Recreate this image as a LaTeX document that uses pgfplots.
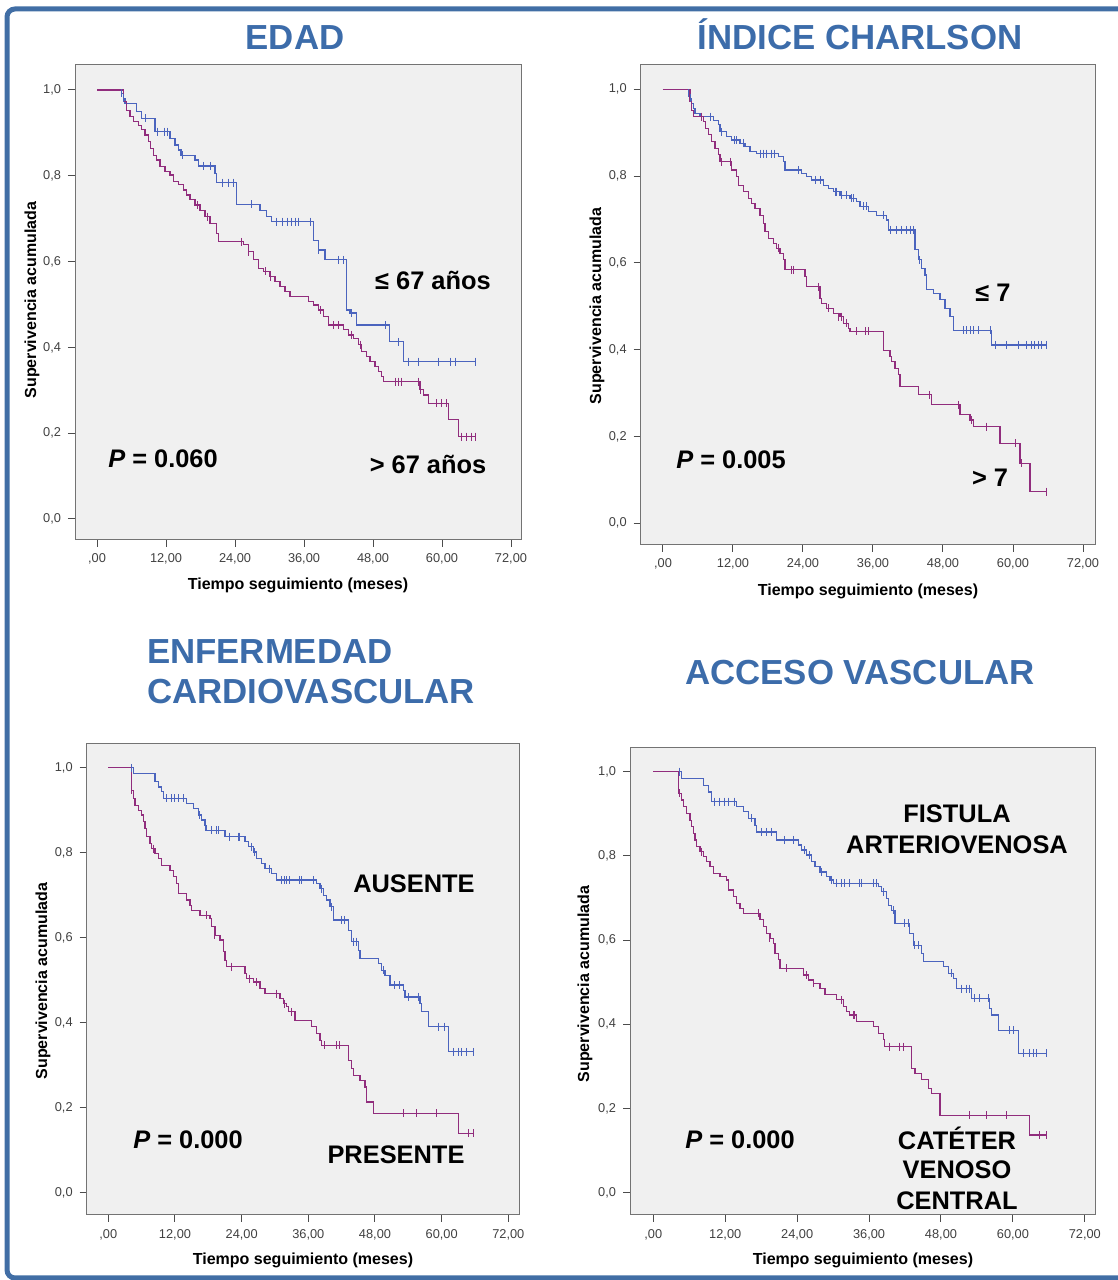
\documentclass[border=0pt]{standalone}
\usepackage{fontspec}
\setmainfont{Liberation Sans}
\usepackage{pgfplots}
\pgfplotsset{compat=1.18}
\definecolor{kmblue}{RGB}{75,100,190}
\definecolor{kmpurple}{RGB}{145,45,125}
\definecolor{bggray}{RGB}{240,240,240}
\definecolor{titleblue}{RGB}{60,108,170}
\definecolor{framec}{RGB}{65,110,165}
\pgfplotsset{km/.style={scale only axis, anchor=south west,
  axis background/.style={fill=bggray},
  axis line style={draw=black!55, line width=0.5pt},
  tick align=outside, xtick pos=bottom, ytick pos=left,
  major tick length=3.5pt, tick style={black!70, line width=0.5pt},
  xtick={0,12,24,36,48,60,72},
  xticklabels={{,00},{12,00},{24,00},{36,00},{48,00},{60,00},{72,00}},
  ytick={0,0.2,0.4,0.6,0.8,1},
  yticklabels={{0,0},{0,2},{0,4},{0,6},{0,8},{1,0}},
  ticklabel style={font=\fontsize{6.4}{7.5}\selectfont, text=black!75},
  clip=false},
  cb/.style={const plot, kmblue, line width=0.6pt},
  cp/.style={const plot, kmpurple, line width=0.6pt},
  mb/.style={only marks, mark=|, mark size=2pt, kmblue, mark options={line width=0.5pt}},
  mp/.style={only marks, mark=|, mark size=2pt, kmpurple, mark options={line width=0.5pt}}}
\newcommand{\ann}{\fontsize{12.7}{14}\selectfont\bfseries}
\newcommand{\ttl}{\fontsize{17.4}{20}\selectfont\bfseries\color{titleblue}}
\newcommand{\axl}{\fontsize{8}{9}\selectfont\bfseries}
\begin{document}
\begin{tikzpicture}[x=0.5pt,y=0.5pt]
\path[use as bounding box] (0,0) rectangle (1118,1280);
\draw[framec, line width=2.5pt, rounded corners=4pt] (7,2) rectangle (1130,1271);
% ---------------- Panel 1 EDAD
\begin{axis}[km, at={(37.5pt,370pt)}, width=223.5pt, height=237.5pt,
  xmin=-3.83, xmax=73.91, ymin=-0.049, ymax=1.0583]
\addplot[cb] coordinates {(0,1)(4.29,0.992)(4.58,0.981)(4.87,0.969)(6.90,0.949)(7.77,0.934)(10.09,0.903)(12.70,0.887)(13.57,0.872)(14.14,0.860)(14.6,0.848)(17.04,0.837)(17.62,0.823)(20.52,0.806)(20.81,0.784)(24.29,0.734)(28.35,0.720)(29.51,0.705)(30.38,0.693)(37.62,0.650)(38.49,0.627)(39.65,0.604)(43.42,0.487)(44.0,0.480)(45.16,0.452)(50.84,0.413)(53.27,0.367)(65.74,0.367)};
\addplot[mb] coordinates {(4.3,0.992)(4.6,0.981)(8.5,0.934)(10.5,0.903)(11.7,0.903)(12.2,0.903)(14.9,0.848)(18.5,0.823)(19.7,0.823)(21.9,0.784)(22.8,0.784)(23.7,0.784)(26.9,0.734)(31.3,0.693)(32.2,0.693)(33.1,0.693)(33.8,0.693)(34.5,0.693)(35.1,0.693)(37.1,0.693)(38.6,0.627)(42.0,0.604)(42.8,0.604)(44.2,0.480)(50.1,0.452)(52.4,0.413)(54.1,0.367)(55.9,0.367)(59.4,0.367)(61.4,0.367)(62.3,0.367)(65.74,0.367)};
\addplot[cp] coordinates {(0,1)(4.58,0.973)(5.16,0.953)(5.74,0.938)(6.32,0.926)(7.19,0.918)(7.77,0.907)(8.35,0.895)(8.93,0.880)(9.33,0.864)(9.80,0.848)(10.38,0.837)(10.96,0.821)(11.83,0.810)(12.70,0.802)(13.28,0.786)(14.14,0.779)(15.01,0.767)(15.59,0.755)(16.17,0.744)(17.04,0.732)(17.91,0.720)(18.78,0.705)(19.65,0.689)(20.81,0.666)(21.10,0.646)(25.45,0.639)(26.32,0.623)(27.19,0.604)(28.06,0.584)(28.93,0.577)(30.09,0.565)(30.96,0.553)(31.83,0.542)(32.70,0.530)(33.57,0.518)(36.75,0.507)(37.62,0.499)(38.49,0.487)(39.36,0.472)(40.23,0.452)(42.84,0.441)(43.71,0.429)(44.58,0.421)(45.45,0.406)(46.03,0.390)(46.90,0.378)(47.48,0.367)(48.35,0.355)(48.93,0.343)(49.51,0.332)(49.80,0.320)(56.17,0.301)(56.75,0.289)(57.62,0.270)(61.10,0.231)(62.84,0.192)(65.74,0.192)};
\addplot[mp] coordinates {(17.45,0.732)(19.25,0.705)(25.2,0.646)(26.32,0.623)(29.22,0.577)(30.09,0.565)(38.78,0.487)(41.10,0.452)(41.97,0.452)(44.29,0.429)(45.74,0.406)(51.83,0.320)(52.41,0.320)(52.99,0.320)(55.88,0.320)(56.3,0.301)(59.07,0.270)(59.94,0.270)(60.81,0.270)(63.42,0.192)(64.29,0.192)(65.16,0.192)(65.74,0.192)};
\end{axis}
% ---------------- Panel 2 CHARLSON
\begin{axis}[km, at={(320.35pt,367.5pt)}, width=227.15pt, height=240pt,
  xmin=-3.82, xmax=74.06, ymin=-0.05, ymax=1.056]
\addplot[cb] coordinates {(0,1)(4.34,0.991)(4.63,0.979)(4.91,0.968)(5.20,0.956)(5.49,0.945)(6.34,0.937)(8.63,0.929)(9.49,0.918)(9.77,0.902)(10.92,0.891)(11.77,0.883)(13.20,0.876)(14.06,0.868)(14.92,0.856)(16.06,0.852)(19.77,0.845)(20.63,0.833)(20.92,0.814)(23.77,0.806)(24.63,0.799)(25.49,0.791)(27.49,0.779)(28.34,0.772)(29.20,0.764)(30.34,0.756)(32.06,0.749)(33.20,0.741)(33.77,0.730)(35.20,0.718)(36.63,0.710)(38.35,0.699)(38.63,0.676)(43.20,0.630)(43.77,0.607)(44.35,0.587)(44.92,0.572)(45.20,0.538)(46.35,0.530)(47.49,0.515)(48.35,0.495)(49.20,0.476)(49.77,0.445)(56.35,0.411)(65.78,0.411)};
\addplot[mb] coordinates {(4.4,0.991)(4.7,0.979)(8.06,0.937)(10.06,0.902)(12.34,0.883)(12.63,0.883)(13.77,0.876)(16.63,0.852)(17.20,0.852)(17.77,0.852)(18.63,0.852)(19.20,0.852)(23.3,0.814)(26.06,0.791)(26.92,0.791)(29.49,0.764)(29.77,0.764)(30.63,0.756)(31.49,0.756)(32.34,0.749)(32.63,0.749)(34.34,0.730)(34.92,0.730)(37.77,0.710)(38.92,0.676)(40.06,0.676)(40.92,0.676)(41.77,0.676)(42.35,0.676)(42.92,0.676)(43.9,0.607)(51.49,0.445)(52.06,0.445)(52.63,0.445)(53.20,0.445)(54.06,0.445)(56.06,0.445)(56.92,0.411)(58.92,0.411)(60.92,0.411)(62.35,0.411)(63.20,0.411)(63.77,0.411)(64.35,0.411)(64.92,0.411)(65.78,0.411)};
\addplot[cp] coordinates {(0,1)(4.63,0.972)(4.91,0.952)(5.20,0.937)(6.9,0.925)(7.3,0.910)(7.77,0.895)(8.34,0.879)(8.91,0.864)(9.49,0.849)(9.77,0.833)(11.77,0.814)(12.63,0.799)(12.91,0.779)(13.77,0.764)(14.63,0.749)(15.20,0.737)(15.77,0.726)(16.63,0.710)(17.20,0.691)(17.49,0.672)(18.06,0.657)(18.92,0.645)(19.49,0.634)(20.06,0.622)(20.63,0.607)(20.92,0.584)(24.34,0.568)(24.63,0.545)(26.92,0.518)(27.20,0.507)(28.06,0.495)(29.20,0.484)(30.34,0.476)(30.92,0.461)(31.77,0.449)(32.06,0.442)(37.77,0.399)(38.92,0.384)(39.20,0.372)(39.77,0.357)(40.34,0.342)(40.63,0.315)(43.77,0.296)(46.06,0.273)(50.92,0.250)(52.63,0.238)(53.20,0.223)(57.77,0.184)(61.20,0.138)(62.92,0.073)(65.78,0.073)};
\addplot[mp] coordinates {(6.63,0.937)(10.06,0.833)(11.49,0.833)(19.77,0.634)(22.06,0.584)(22.34,0.584)(26.63,0.545)(28.34,0.495)(30.06,0.476)(30.63,0.476)(31.49,0.461)(33.20,0.442)(34.63,0.442)(35.20,0.442)(45.77,0.296)(50.6,0.273)(52.92,0.238)(55.49,0.223)(60.35,0.184)(61.49,0.138)(65.78,0.073)};
\end{axis}
% ---------------- Panel 3 ENFERMEDAD CV
\begin{axis}[km, at={(43.35pt,32.5pt)}, width=216.65pt, height=235.5pt,
  xmin=-3.89, xmax=74.1, ymin=-0.052, ymax=1.056]
\addplot[cb] coordinates {(0,1)(4.5,0.987)(8.4,0.967)(9.0,0.955)(9.6,0.944)(9.9,0.928)(14.1,0.916)(15.3,0.904)(16.2,0.889)(16.8,0.877)(17.4,0.865)(17.58,0.853)(21.0,0.838)(24.6,0.826)(25.2,0.814)(26.1,0.802)(26.7,0.787)(27.6,0.775)(28.2,0.763)(29.4,0.751)(30.3,0.736)(37.5,0.728)(38.1,0.716)(38.7,0.700)(39.3,0.689)(39.9,0.673)(40.5,0.642)(43.2,0.618)(43.8,0.591)(45.0,0.571)(45.3,0.551)(48.6,0.540)(49.2,0.524)(49.8,0.512)(50.7,0.489)(53.1,0.477)(53.4,0.461)(56.1,0.445)(56.4,0.426)(57.6,0.391)(61.2,0.332)(65.7,0.332)};
\addplot[mb] coordinates {(4.2,1)(10.5,0.928)(11.4,0.928)(12.0,0.928)(12.6,0.928)(13.5,0.928)(16.5,0.889)(18.6,0.853)(19.5,0.853)(19.8,0.853)(21.9,0.838)(23.4,0.838)(23.7,0.838)(25.8,0.814)(26.4,0.802)(29.1,0.763)(31.2,0.736)(31.8,0.736)(32.1,0.736)(32.7,0.736)(34.5,0.736)(34.8,0.736)(36.9,0.736)(38.4,0.716)(40.2,0.673)(42.0,0.642)(42.6,0.642)(44.1,0.591)(44.7,0.591)(49.5,0.524)(51.6,0.489)(52.5,0.489)(54.0,0.461)(55.8,0.461)(59.4,0.391)(60.6,0.391)(62.1,0.332)(63.0,0.332)(63.6,0.332)(64.5,0.332)(65.7,0.332)};
\addplot[cp] coordinates {(0,1)(4.2,0.947)(4.5,0.928)(4.8,0.912)(5.4,0.900)(6.0,0.889)(6.3,0.873)(6.6,0.857)(6.9,0.838)(7.5,0.822)(7.8,0.810)(8.4,0.798)(9.0,0.787)(9.6,0.771)(11.1,0.759)(11.7,0.744)(12.3,0.728)(12.6,0.704)(14.1,0.689)(14.7,0.677)(15.0,0.665)(16.5,0.653)(18.3,0.645)(18.6,0.626)(19.2,0.606)(20.1,0.595)(20.7,0.567)(21.0,0.547)(21.3,0.532)(24.6,0.516)(24.9,0.504)(26.1,0.496)(27.3,0.481)(28.2,0.469)(30.9,0.457)(31.5,0.445)(32.1,0.438)(32.4,0.426)(33.6,0.406)(36.6,0.391)(37.5,0.375)(38.1,0.359)(38.4,0.347)(43.2,0.312)(43.8,0.293)(44.1,0.277)(45.3,0.265)(46.2,0.249)(46.5,0.214)(47.7,0.187)(63.0,0.140)(65.7,0.140)};
\addplot[mp] coordinates {(4.2,0.947)(8.1,0.810)(17.7,0.653)(19.2,0.606)(22.2,0.532)(25.5,0.504)(26.7,0.496)(30.3,0.469)(31.8,0.445)(33.0,0.426)(39.0,0.347)(41.1,0.347)(41.7,0.347)(53.1,0.187)(55.5,0.187)(59.1,0.187)(64.8,0.140)(65.7,0.140)};
\end{axis}
% ---------------- Panel 4 ACCESO VASCULAR
\begin{axis}[km, at={(315pt,32.5pt)}, width=232.5pt, height=233.85pt,
  xmin=-3.89, xmax=73.7, ymin=-0.053, ymax=1.058]
\addplot[cb] coordinates {(0,1)(4.73,0.984)(8.34,0.968)(9.17,0.952)(9.73,0.929)(13.90,0.917)(15.01,0.905)(15.85,0.889)(16.96,0.873)(17.24,0.857)(20.57,0.838)(24.19,0.826)(24.74,0.814)(25.58,0.802)(26.41,0.786)(26.97,0.774)(27.80,0.762)(28.91,0.751)(29.47,0.743)(30.02,0.735)(37.53,0.727)(38.09,0.715)(38.92,0.699)(39.20,0.683)(39.75,0.671)(40.31,0.640)(42.81,0.616)(43.37,0.588)(44.76,0.568)(45.04,0.549)(48.37,0.537)(49.21,0.521)(50.04,0.509)(50.60,0.485)(53.10,0.462)(56.16,0.438)(56.43,0.422)(57.55,0.386)(60.88,0.331)(65.61,0.331)};
\addplot[mb] coordinates {(4.45,1)(10.29,0.929)(11.12,0.929)(11.95,0.929)(12.51,0.929)(13.62,0.929)(16.40,0.889)(18.07,0.857)(18.90,0.857)(19.74,0.857)(21.96,0.838)(23.35,0.838)(25.30,0.814)(26.13,0.802)(28.08,0.762)(29.75,0.743)(30.58,0.735)(31.41,0.735)(31.97,0.735)(32.80,0.735)(34.47,0.735)(34.75,0.735)(36.70,0.735)(37.25,0.735)(38.36,0.715)(40.03,0.671)(41.98,0.640)(42.53,0.640)(43.65,0.588)(44.20,0.588)(49.76,0.521)(51.43,0.485)(52.26,0.485)(52.82,0.485)(53.65,0.462)(54.49,0.462)(55.88,0.462)(59.49,0.386)(60.05,0.386)(61.72,0.331)(62.83,0.331)(63.38,0.331)(63.94,0.331)(65.61,0.331)};
\addplot[cp] coordinates {(0,1)(4.17,0.949)(4.73,0.933)(5.00,0.917)(5.56,0.901)(6.12,0.885)(6.39,0.869)(6.67,0.854)(6.95,0.838)(7.23,0.822)(7.78,0.810)(8.34,0.798)(8.90,0.786)(9.45,0.774)(10.01,0.759)(11.12,0.751)(12.23,0.743)(12.51,0.719)(13.34,0.703)(13.90,0.687)(14.46,0.675)(15.01,0.664)(17.79,0.648)(18.35,0.632)(18.90,0.616)(19.46,0.604)(20.02,0.592)(20.29,0.568)(20.85,0.553)(21.13,0.533)(25.02,0.517)(25.85,0.505)(26.69,0.497)(27.80,0.485)(28.63,0.470)(30.58,0.458)(31.69,0.442)(32.25,0.430)(32.80,0.422)(33.92,0.406)(36.70,0.394)(37.53,0.378)(38.36,0.363)(38.64,0.347)(43.09,0.295)(43.65,0.283)(44.76,0.268)(45.87,0.248)(46.43,0.236)(47.82,0.184)(62.83,0.137)(65.61,0.137)};
\addplot[mp] coordinates {(4.45,0.949)(8.06,0.810)(17.51,0.664)(19.46,0.604)(22.24,0.533)(25.58,0.517)(26.69,0.497)(31.41,0.458)(33.36,0.422)(33.64,0.422)(39.48,0.347)(41.14,0.347)(41.70,0.347)(52.82,0.184)(55.60,0.184)(58.94,0.184)(64.50,0.137)(65.61,0.137)};
\end{axis}
% ---------------- Titles
\node[font=\ttl, anchor=base] at (295,1230) {EDAD};
\node[font=\ttl, anchor=base] at (860,1230) {ÍNDICE CHARLSON};
\node[font=\ttl, anchor=west] at (140,628) {ENFERMEDAD};
\node[font=\ttl, anchor=west] at (140,588) {CARDIOVASCULAR};
\node[font=\ttl] at (860,607) {ACCESO VASCULAR};
% ---------------- Axis labels
\node[font=\axl] at (298,695) {Tiempo seguimiento (meses)};
\node[font=\axl] at (868,689) {Tiempo seguimiento (meses)};
\node[font=\axl] at (303,20) {Tiempo seguimiento (meses)};
\node[font=\axl] at (863,20) {Tiempo seguimiento (meses)};
\node[font=\axl, rotate=90] at (32,980) {Supervivencia acumulada};
\node[font=\axl, rotate=90] at (597,974) {Supervivencia acumulada};
\node[font=\axl, rotate=90] at (43,299) {Supervivencia acumulada};
\node[font=\axl, rotate=90] at (585,296) {Supervivencia acumulada};
% ---------------- Annotations
\node[font=\ann] at (433,1000) {≤ 67 años};
\node[font=\ann] at (428,816) {> 67 años};
\node[font=\ann] at (163,821) {\textit{P} = 0.060};
\node[font=\ann] at (993,987) {≤ 7};
\node[font=\ann] at (990,802) {> 7};
\node[font=\ann] at (731,820) {\textit{P} = 0.005};
\node[font=\ann] at (414,396) {AUSENTE};
\node[font=\ann] at (396,125) {PRESENTE};
\node[font=\ann] at (188,140) {\textit{P} = 0.000};
\node[font=\ann] at (957,466) {FISTULA};
\node[font=\ann] at (957,435) {ARTERIOVENOSA};
\node[font=\ann] at (740,140) {\textit{P} = 0.000};
\node[font=\ann] at (957,142) {CATÉTER};
\node[font=\ann] at (957,110) {VENOSO};
\node[font=\ann] at (957,79) {CENTRAL};
\end{tikzpicture}
\end{document}
